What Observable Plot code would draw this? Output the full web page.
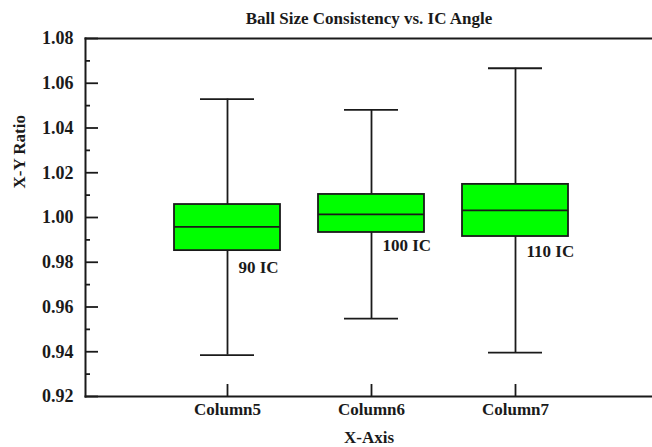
<!DOCTYPE html>
<html>
<head>
<meta charset="utf-8">
<script src="https://cdn.jsdelivr.net/npm/d3@7"></script>
<script src="https://cdn.jsdelivr.net/npm/@observablehq/plot@0.6"></script>
<style>
  html, body { margin: 0; padding: 0; background: #fff; }
  svg { display: block; }
  svg, svg text { font-family: "Liberation Serif", "Times New Roman", Times, serif !important; font-weight: bold; }
</style>
</head>
<body>
<div id="chart"></div>
<script>
const categories = ["Column5", "Column6", "Column7"];
const lowerWhisker = [0.9385, 0.9548, 0.9396];
const q1 = [0.9852, 0.9933, 0.9915];
const median = [0.9958, 1.0014, 1.0032];
const q3 = [1.0058, 1.0103, 1.0148];
const upperWhisker = [1.0529, 1.0481, 1.0667];
const boxLabels = ["90 IC", "100 IC", "110 IC"];
const boxLabelY = [0.9778, 0.9876, 0.9847];
const yTicks = [0.92, 0.94, 0.96, 0.98, 1.00, 1.02, 1.04, 1.06, 1.08];
const yMinorTicks = [0.93, 0.95, 0.97, 0.99, 1.01, 1.03, 1.05, 1.07];
const title = "Ball Size Consistency vs. IC Angle";
const xLabel = "X-Axis";
const yLabel = "X-Y Ratio";

const data = categories.map((c, i) => ({
  cat: c, lo: lowerWhisker[i], q1: q1[i], med: median[i], q3: q3[i], hi: upperWhisker[i],
  label: boxLabels[i], ly: boxLabelY[i]
}));

const ink = "#1a1a1a";

const chart = Plot.plot({
  width: 652,
  height: 447,
  marginLeft: 85,
  marginRight: 0,
  marginTop: 38,
  marginBottom: 51,
  style: { color: ink, background: "#fff" },
  x: { type: "band", domain: categories, range: [82.7, 658.7], paddingInner: 0.264, paddingOuter: 0.632 },
  y: { domain: [0.92, 1.08] },
  marks: [
    // whiskers
    Plot.ruleX(data, { x: "cat", y1: "lo", y2: "q1", stroke: ink, strokeWidth: 1.8 }),
    Plot.ruleX(data, { x: "cat", y1: "q3", y2: "hi", stroke: ink, strokeWidth: 1.8 }),
    Plot.tickY(data, { x: "cat", y: "lo", stroke: ink, strokeWidth: 1.8, insetLeft: 26, insetRight: 26 }),
    Plot.tickY(data, { x: "cat", y: "hi", stroke: ink, strokeWidth: 1.8, insetLeft: 26, insetRight: 26 }),
    // boxes
    Plot.barY(data, { x: "cat", y1: "q1", y2: "q3", fill: "#00ff00", stroke: ink, strokeWidth: 1.8 }),
    Plot.tickY(data, { x: "cat", y: "med", stroke: ink, strokeWidth: 1.8 }),
    // box labels
    Plot.text(data, { x: "cat", y: "ly", text: "label", dx: 11, textAnchor: "start", fontSize: 17, fill: ink }),
    // axes: ticks inward
    Plot.axisY({ ticks: yTicks, tickSize: -13, text: null, label: null, stroke: ink, strokeWidth: 1.8 }),
    Plot.axisY({ ticks: yMinorTicks, tickSize: -5, text: null, label: null, stroke: ink, strokeWidth: 1.8 }),
    Plot.axisY({ ticks: yTicks, tickSize: 0, tickPadding: 12, tickFormat: d3.format(".2f"), fontSize: 18, label: null, fill: ink }),
    Plot.axisX({ tickSize: -12, text: null, label: null, stroke: ink, strokeWidth: 1.8 }),
    Plot.axisX({ tickSize: 0, tickPadding: 6, fontSize: 17, label: null, fill: ink }),
    // frame lines
    Plot.frame({ anchor: "left", stroke: ink, strokeWidth: 2 }),
    Plot.frame({ anchor: "top", stroke: ink, strokeWidth: 2 }),
    Plot.frame({ anchor: "bottom", stroke: ink, strokeWidth: 2 }),
    // titles
    Plot.text([title], { frameAnchor: "top", lineAnchor: "middle", dy: -20, fontSize: 17, fill: ink }),
    Plot.text([xLabel], { frameAnchor: "bottom", lineAnchor: "middle", dy: 41, fontSize: 17, fill: ink }),
    Plot.text([yLabel], { frameAnchor: "left", dx: -66, dy: -29, rotate: -90, fontSize: 17, fill: ink })
  ]
});
document.getElementById("chart").appendChild(chart);
</script>
</body>
</html>
